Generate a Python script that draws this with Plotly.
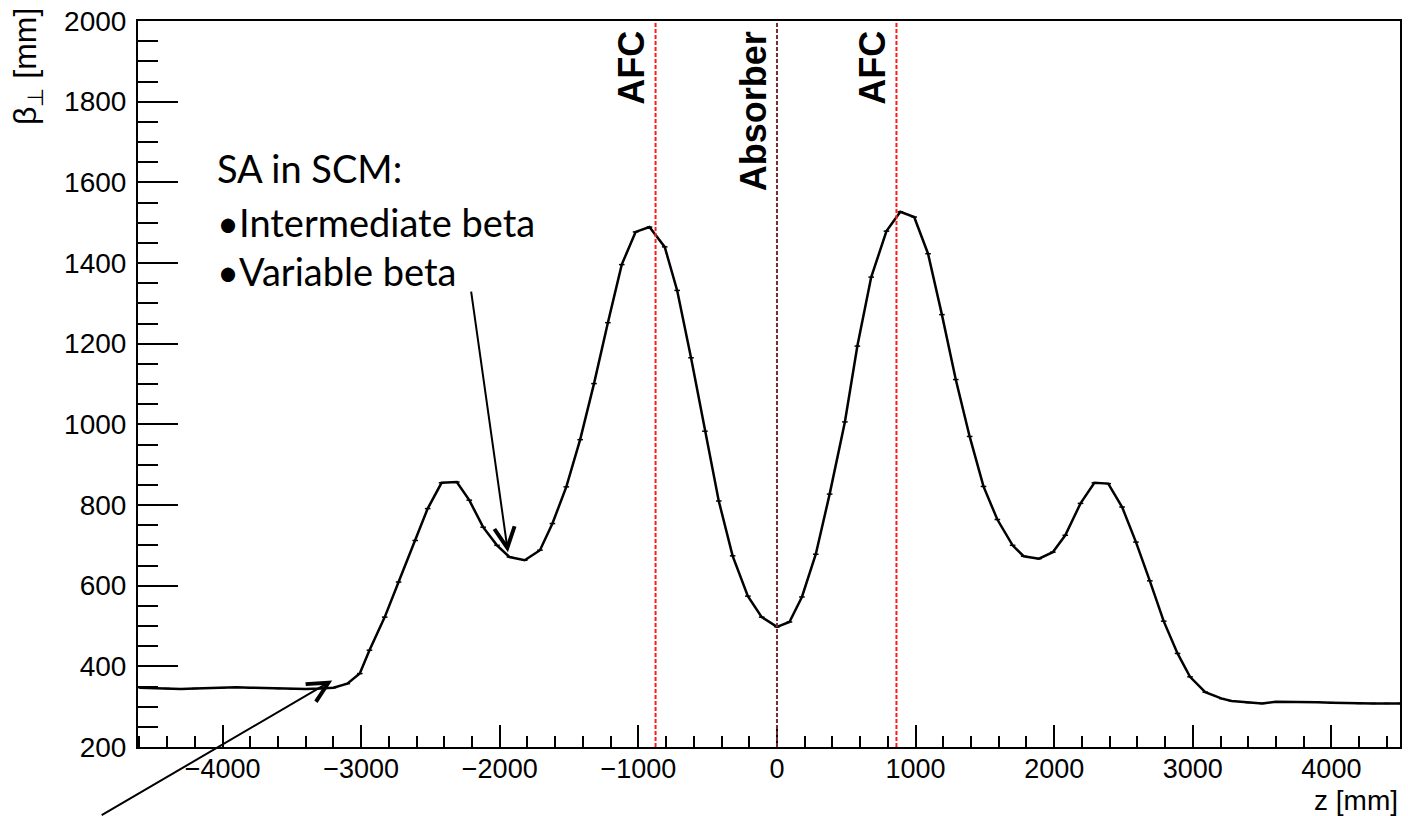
import plotly.graph_objects as go

# ---- data ----
z_mm = [-4600, -4500, -4400, -4300, -4200, -4100, -4000, -3900, -3800, -3700,
        -3600, -3500, -3400, -3300, -3200, -3100, -3010, -2940, -2830, -2730,
        -2610, -2520, -2420, -2310, -2220, -2120, -2020, -1930, -1820, -1710,
        -1620, -1520, -1420, -1320, -1220, -1120, -1020, -920, -810, -720,
        -620, -520, -420, -320, -210, -110, 0, 90, 180, 280,
        380, 490, 580, 680, 790, 890, 990, 1090, 1190, 1290,
        1390, 1490, 1590, 1700, 1780, 1890, 1990, 2080, 2190, 2290,
        2390, 2490, 2590, 2690, 2790, 2890, 2980, 3090, 3210, 3280,
        3400, 3500, 3600, 3700, 3800, 3900, 4000, 4100, 4200, 4300,
        4400, 4500]
beta_mm = [347, 346, 345, 344, 345, 346, 347, 348, 347, 346,
           345, 344, 344, 345, 347, 357, 382, 440, 522, 609,
           712, 791, 855, 857, 812, 745, 700, 671, 663, 688,
           754, 845, 962, 1101, 1252, 1396, 1477, 1489, 1440, 1332,
           1165, 983, 810, 674, 574, 522, 498, 510, 572, 678,
           827, 1006, 1194, 1365, 1479, 1527, 1514, 1423, 1272, 1111,
           970, 846, 764, 700, 673, 667, 683, 725, 804, 855,
           853, 795, 708, 612, 512, 432, 374, 336, 320, 314,
           310, 308, 312, 312, 311, 311, 310, 309, 308, 308,
           308, 308]

marker_z = [-876, 0, 862]
marker_labels = ["AFC", "Absorber", "AFC"]
marker_colors = ["#ff1a1a", "#7a2b2b", "#ff1a1a"]

note_title = "SA in SCM:"
note_bullets = ["•Intermediate beta", "•Variable beta"]

x_range = [-4610, 4495]
y_range = [200, 2000]

FONT = "Liberation Sans, Arial, Helvetica, sans-serif"
NOTE_FONT = "Lato, Open Sans, sans-serif"

fig = go.Figure()
fig.add_trace(go.Scatter(
    x=z_mm, y=beta_mm, mode="lines+markers",
    line=dict(color="black", width=2.5),
    marker=dict(symbol="line-ew", size=4, line=dict(color="black", width=1.5)),
    showlegend=False, hoverinfo="skip",
))

for zz, lab, col in zip(marker_z, marker_labels, marker_colors):
    fig.add_shape(type="line", xref="x", yref="paper", x0=zz, x1=zz, y0=0, y1=1,
                  line=dict(color=col, width=2, dash="4px,2px"), layer="above")
    fig.add_annotation(x=zz, xref="x", y=0.988, yref="paper", text=lab,
                       textangle=-90, showarrow=False, xanchor="right", yanchor="top",
                       xshift=-2, borderpad=0,
                       font=dict(family=FONT, size=36, color="black", weight="bold"))

# note text
fig.add_annotation(x=(216 - 138) / 1264, xref="paper",
                   y=(746.7 - 168) / 726, yref="paper", text=note_title,
                   showarrow=False, xanchor="left", yanchor="middle", borderpad=0,
                   font=dict(family=NOTE_FONT, size=38, color="black"))
fig.add_annotation(x=(216 - 138) / 1264, xref="paper",
                   y=(746.7 - 246) / 726, yref="paper", text="<br>".join(note_bullets),
                   showarrow=False, xanchor="left", yanchor="middle", align="left",
                   borderpad=0,
                   font=dict(family=NOTE_FONT, size=38, color="black"))

# arrows
fig.add_annotation(x=-1941, y=683, xref="x", yref="y", ax=-37, ay=-262,
                   text="", showarrow=True, arrowhead=5, arrowsize=2.0,
                   arrowwidth=2, arrowcolor="black")
fig.add_annotation(x=-3209, y=365, xref="x", yref="y", ax=-232, ay=144,
                   text="", showarrow=True, arrowhead=5, arrowsize=2.0,
                   arrowwidth=2, arrowcolor="black")

# axis titles
fig.add_annotation(x=1, xref="paper", y=-53 / 726, yref="paper", text="z [mm]",
                   showarrow=False, xanchor="right", yanchor="middle",
                   font=dict(family=FONT, size=28, color="black"))
fig.add_annotation(x=-(138 - 28) / 1264, xref="paper", y=(746.7 - 6) / 726, yref="paper",
                   text="β<sub>⊥</sub> [mm]", textangle=-90,
                   showarrow=False, xanchor="center", yanchor="top",
                   font=dict(family=FONT, size=32, color="black"))

fig.update_xaxes(range=x_range, showline=True, linecolor="black", linewidth=2,
                 mirror=True, ticks="inside", ticklen=22, tickwidth=1.5,
                 tickcolor="black", tick0=0, dtick=1000, showgrid=False,
                 zeroline=False, tickfont=dict(family=FONT, size=27, color="black"),
                 minor=dict(ticks="inside", ticklen=11, dtick=200, tickwidth=1.5,
                            tickcolor="black", showgrid=False))
try:
    fig.update_xaxes(ticklabelstandoff=-3)
except ValueError:
    pass
fig.update_yaxes(range=y_range, showline=True, linecolor="black", linewidth=2,
                 mirror=True, ticks="inside", ticklen=40, tickwidth=1.5,
                 tickcolor="black", tick0=0, dtick=200, showgrid=False,
                 zeroline=False, ticklabelstandoff=4,
                 tickfont=dict(family=FONT, size=28, color="black"),
                 minor=dict(ticks="inside", ticklen=20, dtick=50, tickwidth=1.5,
                            tickcolor="black", showgrid=False))

fig.update_layout(width=1408, height=816, margin=dict(l=138, r=6, t=21, b=69),
                  plot_bgcolor="white", paper_bgcolor="white")

fig.write_html("out.html")
